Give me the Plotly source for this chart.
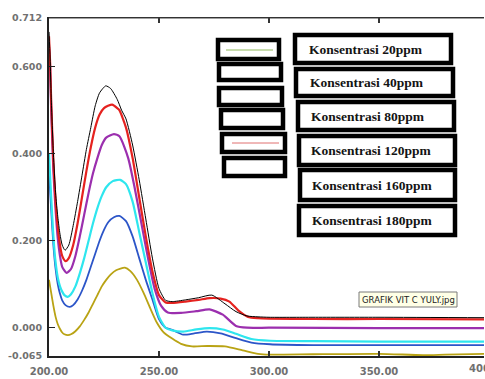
import plotly.graph_objects as go

# ---------------- data ----------------
wl_black = [200, 200.5, 201, 202, 203, 204, 205, 206, 207.3, 209, 211, 213, 215, 217, 219, 221, 223, 225.8, 228, 231, 233,
            235, 238, 241, 244, 247, 250, 253, 256, 262, 268, 274, 280, 285, 290, 295, 300, 320, 350, 400]
ab_black = [0.68, 0.62, 0.53, 0.40, 0.31, 0.255, 0.215, 0.19, 0.178, 0.19, 0.235, 0.29, 0.35, 0.41, 0.46, 0.51, 0.54, 0.556, 0.55, 0.525, 0.50,
            0.48, 0.42, 0.34, 0.25, 0.16, 0.09, 0.063, 0.06, 0.064, 0.069, 0.075, 0.055, 0.037, 0.027, 0.025, 0.024, 0.024, 0.024, 0.023]

wl_red = [200, 200.5, 201, 202, 203, 204, 205, 206, 207.5, 209, 211, 213, 215, 217, 219, 221, 223, 225, 228.7, 231, 232,
          235, 238, 241, 244, 247, 250, 253, 256, 262, 268, 273, 278, 282, 286, 290.5, 295, 300, 320, 350, 400]
ab_red = [0.67, 0.61, 0.52, 0.38, 0.29, 0.23, 0.19, 0.165, 0.153, 0.16, 0.19, 0.24, 0.30, 0.36, 0.415, 0.46, 0.49, 0.505, 0.513, 0.505, 0.50,
          0.46, 0.39, 0.30, 0.21, 0.13, 0.075, 0.058, 0.057, 0.06, 0.064, 0.068, 0.067, 0.06, 0.04, 0.025, 0.022, 0.021, 0.02, 0.02, 0.019]

wl_purple = [200, 200.5, 201, 202, 203, 204, 205, 206, 208, 210, 212, 214, 216, 218, 220, 222, 224, 226, 229.5, 232,
             236, 239, 242, 245, 248, 251, 254, 260, 267, 273, 279, 285, 290, 300, 350, 400]
ab_purple = [0.645, 0.60, 0.50, 0.36, 0.27, 0.205, 0.165, 0.14, 0.126, 0.135, 0.165, 0.21, 0.26, 0.31, 0.355, 0.39, 0.42, 0.437, 0.445, 0.44,
             0.39, 0.32, 0.24, 0.16, 0.09, 0.05, 0.035, 0.034, 0.038, 0.042, 0.03, 0.004, 0.0, 0.0, -0.001, -0.001]

wl_cyan = [200, 201, 202, 203, 204, 205, 206, 207, 208.5, 210, 212, 214, 216, 218, 220, 222, 224, 226, 229, 232.3,
           235, 238, 241, 244, 247, 250, 253, 256, 261, 267, 273, 279, 285, 292, 300.5, 320, 350, 400]
ab_cyan = [0.40, 0.30, 0.21, 0.15, 0.115, 0.095, 0.083, 0.075, 0.071, 0.077, 0.095, 0.125, 0.16, 0.20, 0.24, 0.275, 0.303, 0.323, 0.337, 0.34,
           0.33, 0.29, 0.22, 0.15, 0.08, 0.025, 0.0, -0.006, -0.009, -0.004, -0.001, -0.004, -0.014, -0.026, -0.030, -0.031, -0.032, -0.032]

wl_blue = [200, 201, 202, 203, 204, 205, 206, 207.5, 209.5, 211, 213, 215, 217, 219, 221, 223, 225, 227, 229.5, 232,
           235, 238, 241, 244, 247, 250, 253, 256, 261, 266, 271.7, 278, 285, 292, 300.5, 320, 350, 400]
ab_blue = [0.36, 0.27, 0.19, 0.135, 0.10, 0.078, 0.063, 0.052, 0.048, 0.052, 0.065, 0.085, 0.11, 0.14, 0.17, 0.20, 0.225, 0.243, 0.254, 0.257,
           0.245, 0.21, 0.16, 0.11, 0.065, 0.02, 0.0, -0.005, -0.016, -0.013, -0.009, -0.013, -0.024, -0.034, -0.038, -0.040, -0.040, -0.040]

wl_olive = [200, 201, 202, 203, 204, 205, 206, 207, 208.6, 210, 212, 214, 216, 218, 220, 222, 224, 226, 228, 230.5, 234.5,
            237, 240, 243, 246, 249, 252, 256, 260, 265, 272, 280, 288, 295, 300.5, 320, 350, 370, 380, 400]
ab_olive = [0.11, 0.08, 0.05, 0.025, 0.008, -0.003, -0.011, -0.015, -0.017, -0.015, -0.008, 0.003, 0.018, 0.035, 0.055, 0.075, 0.095, 0.11, 0.122, 0.132, 0.138,
            0.13, 0.11, 0.08, 0.045, 0.012, -0.01, -0.025, -0.037, -0.043, -0.042, -0.043, -0.052, -0.060, -0.062, -0.061, -0.060, -0.063, -0.062, -0.060]

series = [
    ("Konsentrasi 180ppm", wl_black, ab_black, "#000000", 1.0),
    ("Konsentrasi 160ppm", wl_red, ab_red, "#e5221f", 2.2),
    ("Konsentrasi 120ppm", wl_purple, ab_purple, "#9b2fae", 2.2),
    ("Konsentrasi 80ppm", wl_cyan, ab_cyan, "#2ee6ee", 2.2),
    ("Konsentrasi 40ppm", wl_blue, ab_blue, "#2c55c8", 1.8),
    ("Konsentrasi 20ppm", wl_olive, ab_olive, "#b9a314", 1.8),
]

y_ticks = [0.712, 0.600, 0.400, 0.200, 0.000, -0.065]
y_ticktext = ["0.712", "0.600", "0.400", "0.200", "0.000", "-0.065"]
x_ticks = [200, 250, 300, 350]
x_ticktext = ["200.00", "250.00", "300.00", "350.00"]
legend_labels = ["Konsentrasi 20ppm", "Konsentrasi 40ppm", "Konsentrasi 80ppm",
                 "Konsentrasi 120ppm", "Konsentrasi 160ppm", "Konsentrasi 180ppm"]

# ---------------- layout geometry ----------------
W, H = 485, 379
ML, MR, MT, MB = 49, 1, 18, 23
PW, PH = W - ML - MR, H - MT - MB
XMIN = 200
XMAX = 200 + PW / 2.2


def px(x):
    return (x - ML) / PW


def py(y):
    return (H - MB - y) / PH


fig = go.Figure()
for name, xs, ys, col, w in series[::-1]:
    fig.add_trace(go.Scatter(x=xs, y=ys, mode="lines", name=name, showlegend=False,
                             line=dict(color=col, width=w, shape="spline", smoothing=0.6),
                             hoverinfo="skip"))

shapes = []
annotations = []

# small legend swatch boxes
small_boxes = [(216, 38, 281, 61), (217, 62, 283, 82), (217, 86, 284, 107),
               (219, 108, 285, 130), (220, 132, 287, 154), (222, 156, 287, 178)]
for (x0, y0, x1, y1) in small_boxes:
    shapes.append(dict(type="rect", xref="paper", yref="paper",
                       x0=px(x0 + 2), x1=px(x1 - 2), y0=py(y0 + 2), y1=py(y1 - 2),
                       line=dict(color="#000000", width=4.5), fillcolor="#ffffff", layer="above"))
shapes.append(dict(type="line", xref="paper", yref="paper", x0=px(226), x1=px(273), y0=py(50), y1=py(50),
                   line=dict(color="#8fb85a", width=1), layer="above"))
shapes.append(dict(type="line", xref="paper", yref="paper", x0=px(232), x1=px(279), y0=py(143), y1=py(143),
                   line=dict(color="#e07070", width=1), layer="above"))

# text legend boxes
big_boxes = [(293, 33, 453, 65), (294, 67, 455, 98), (296, 100, 456, 132),
             (297, 134, 457, 167), (298, 168, 457, 202), (297, 204, 457, 237)]
text_x = [307, 308, 309, 309, 310, 310]
for (x0, y0, x1, y1), lab, tx in zip(big_boxes, legend_labels, text_x):
    shapes.append(dict(type="rect", xref="paper", yref="paper",
                       x0=px(x0 + 2), x1=px(x1 - 2), y0=py(y0 + 2), y1=py(y1 - 2),
                       line=dict(color="#000000", width=4.5), fillcolor="#ffffff", layer="above"))
    annotations.append(dict(xref="paper", yref="paper", x=px(tx), y=py((y0 + y1) / 2),
                            text="<b>" + lab + "</b>", showarrow=False, xanchor="left", yanchor="middle",
                            font=dict(family="Liberation Serif", size=13.5, color="#141414")))

# tooltip-like file label
shapes.append(dict(type="rect", xref="paper", yref="paper", x0=px(359), x1=px(457), y0=py(292), y1=py(307),
                   line=dict(color="#7a7a7a", width=1), fillcolor="#ffffe6", layer="above"))
annotations.append(dict(xref="paper", yref="paper", x=px(408), y=py(299.5), text="GRAFIK VIT C YULY.jpg",
                        showarrow=False, xanchor="center", yanchor="middle",
                        font=dict(family="DejaVu Sans", size=8.5, color="#222222")))

# top frame line
shapes.append(dict(type="line", xref="paper", yref="paper", x0=0, x1=1, y0=1, y1=1,
                   line=dict(color="#444444", width=1)))

# 400.00 label (tick sits just past the visible window edge)
annotations.append(dict(xref="paper", yref="paper", x=(400 - XMIN) / (XMAX - XMIN), y=0, yshift=-5,
                        text="<b>400.00</b>", showarrow=False, xanchor="center", yanchor="top",
                        font=dict(family="DejaVu Sans", size=10, color="#707070")))
# axis title, mostly cut off by the bottom edge
annotations.append(dict(xref="paper", yref="paper", x=px(266), y=py(374), text="nm",
                        showarrow=False, xanchor="center", yanchor="top",
                        font=dict(family="DejaVu Sans", size=10, color="#666666")))

fig.update_layout(
    width=W, height=H, margin=dict(l=ML, r=MR, t=MT, b=MB, autoexpand=False),
    paper_bgcolor="#ffffff", plot_bgcolor="#ffffff",
    shapes=shapes, annotations=annotations, showlegend=False,
    xaxis=dict(range=[XMIN, XMAX], tickvals=x_ticks, ticktext=["<b>%s</b>" % t for t in x_ticktext],
               ticks="inside", ticklen=5, ticklabelstandoff=5,
               tickcolor="#333333", tickwidth=1.5, showline=True, linecolor="#222222", linewidth=1.5,
               mirror="ticks", showgrid=False, zeroline=False, automargin=False,
               tickfont=dict(family="DejaVu Sans", size=10, color="#707070")),
    yaxis=dict(range=[-0.065, 0.712], tickvals=y_ticks, ticktext=["<b>%s</b>" % t for t in y_ticktext],
               ticks="inside", ticklen=6, ticklabelstandoff=3,
               tickcolor="#222222", tickwidth=1.5, showline=True, linecolor="#222222", linewidth=2,
               showgrid=False, zeroline=False, automargin=False,
               tickfont=dict(family="DejaVu Sans", size=9.5, color="#707070")),
)

fig.write_html("out.html", config={"displayModeBar": False, "staticPlot": True},
               post_script="document.body.style.margin='0px';document.body.style.overflow='hidden';")
